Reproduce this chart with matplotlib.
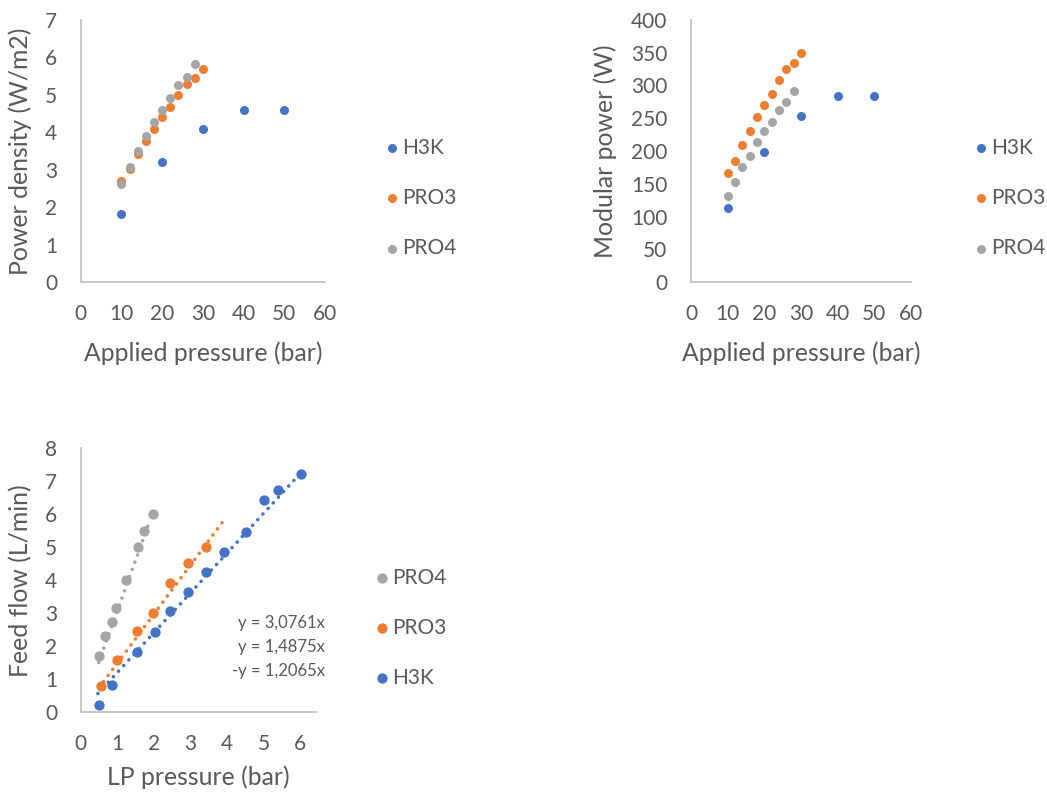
import matplotlib
matplotlib.use("Agg")
import matplotlib.pyplot as plt
import numpy as np

plt.rcParams["font.family"] = ["Lato", "DejaVu Sans"]

# ---- data -------------------------------------------------------------
series_names = ["H3K", "PRO3", "PRO4"]
colors = {"H3K": "#4472C4", "PRO3": "#ED7D31", "PRO4": "#A5A5A5"}

# Applied pressure (bar)
pressure_h3k = [10, 20, 30, 40, 50]
pressure_pro3 = [10, 12, 14, 16, 18, 20, 22, 24, 26, 28, 30]
pressure_pro4 = [10, 12, 14, 16, 18, 20, 22, 24, 26, 28]

# Power density (W/m2)
density_h3k = [1.83, 3.21, 4.08, 4.59, 4.60]
density_pro3 = [2.70, 3.01, 3.41, 3.76, 4.10, 4.41, 4.68, 5.00, 5.29, 5.45, 5.69]
density_pro4 = [2.63, 3.07, 3.50, 3.89, 4.28, 4.60, 4.91, 5.25, 5.49, 5.82]

# Modular power (W)
power_h3k = [113, 199, 254, 284, 284]
power_pro3 = [166, 184, 209, 231, 252, 270, 287, 308, 325, 335, 349]
power_pro4 = [132, 153, 175, 193, 214, 231, 245, 263, 275, 291]

# LP pressure (bar) vs feed flow (L/min)
lp_h3k = [0.49, 0.86, 1.55, 2.04, 2.45, 2.94, 3.43, 3.91, 4.51, 5.02, 5.40, 6.01]
flow_h3k = [0.23, 0.83, 1.82, 2.42, 3.06, 3.65, 4.25, 4.85, 5.47, 6.43, 6.73, 7.21]
lp_pro3 = [0.56, 0.98, 1.55, 1.97, 2.44, 2.94, 3.42]
flow_pro3 = [0.81, 1.58, 2.46, 3.02, 3.91, 4.52, 5.02]
lp_pro4 = [0.49, 0.67, 0.86, 0.97, 1.25, 1.56, 1.74, 1.97]
flow_pro4 = [1.71, 2.32, 2.75, 3.17, 4.01, 5.02, 5.50, 6.01]

# Linear fits through the origin (slope) and the x-range each trendline covers
slopes = {"PRO4": 3.0761, "PRO3": 1.4875, "H3K": 1.2065}
slope_labels = {"PRO4": "y = 3,0761x", "PRO3": "y = 1,4875x", "H3K": "-y = 1,2065x"}
trend_range = {"PRO4": (0.49, 1.90), "PRO3": (0.50, 3.90), "H3K": (0.47, 6.10)}

TEXT = "#595959"
AXIS = "#BFBFBF"

fig = plt.figure(figsize=(10.47, 7.96), dpi=100)


def style_axes(ax, xlim, ylim, xticks, yticks, xlabel, ylabel, xl_pos, yl_pos):
    ax.set_xlim(*xlim)
    ax.set_ylim(*ylim)
    ax.set_xticks(xticks)
    ax.set_yticks(yticks)
    for side in ("top", "right"):
        ax.spines[side].set_visible(False)
    for side in ("left", "bottom"):
        ax.spines[side].set_color(AXIS)
        ax.spines[side].set_linewidth(1.2)
    ax.tick_params(length=0, labelsize=15, colors=TEXT, pad=16)
    ax.tick_params(axis="y", pad=17)
    ax.set_xlabel(xlabel, fontsize=17.8, color=TEXT)
    ax.set_ylabel(ylabel, fontsize=17.8, color=TEXT)
    ax.xaxis.set_label_coords(0.5, xl_pos)
    ax.yaxis.set_label_coords(yl_pos, 0.5)
    ax.patch.set_alpha(0)


def add_legend(ax, handles, labels, x, y):
    leg = ax.legend(handles, labels, loc="upper left", bbox_to_anchor=(x, y),
                    bbox_transform=fig.transFigure, frameon=False,
                    fontsize=15, labelcolor=TEXT, handletextpad=0.1,
                    handlelength=0.8, labelspacing=1.45, borderaxespad=0,
                    borderpad=0)
    return leg


# ---- panel 1: power density ----------------------------------------------
ax1 = fig.add_axes([0.0771, 0.6457, 0.2333, 0.3292])
h = {}
for name, xs, ys in [("H3K", pressure_h3k, density_h3k),
                     ("PRO3", pressure_pro3, density_pro3),
                     ("PRO4", pressure_pro4, density_pro4)]:
    h[name] = ax1.scatter(xs, ys, s=42, color=colors[name], zorder=3,
                          linewidths=0)
style_axes(ax1, (0, 60), (0, 7), range(0, 61, 10), range(0, 8),
           "Applied pressure (bar)", "Power density (W/m2)", -0.225, -0.199)
add_legend(ax1, [h[n] for n in series_names], series_names, 0.366, 0.827)

# ---- panel 2: modular power ----------------------------------------------
ax2 = fig.add_axes([0.6600, 0.6457, 0.2101, 0.3292])
h = {}
for name, xs, ys in [("H3K", pressure_h3k, power_h3k),
                     ("PRO3", pressure_pro3, power_pro3),
                     ("PRO4", pressure_pro4, power_pro4)]:
    h[name] = ax2.scatter(xs, ys, s=42, color=colors[name], zorder=3,
                          linewidths=0)
style_axes(ax2, (0, 60), (0, 400), range(0, 61, 10), range(0, 401, 50),
           "Applied pressure (bar)", "Modular power (W)", -0.225, -0.336)
add_legend(ax2, [h[n] for n in series_names], series_names, 0.929, 0.827)

# ---- panel 3: feed flow vs LP pressure ----------------------------------
ax3 = fig.add_axes([0.0771, 0.1052, 0.2244, 0.3316])
h = {}
for name, xs, ys in [("PRO4", lp_pro4, flow_pro4),
                     ("PRO3", lp_pro3, flow_pro3),
                     ("H3K", lp_h3k, flow_h3k)]:
    h[name] = ax3.scatter(xs, ys, s=55, color=colors[name], zorder=3,
                          linewidths=0)
    x0, x1 = trend_range[name]
    xt = np.array([x0, x1])
    ax3.plot(xt, slopes[name] * xt, color=colors[name], lw=2.6,
             linestyle=(0, (0.01, 2.1)), dash_capstyle="round", zorder=2)
style_axes(ax3, (0, 6.42), (0, 8), range(0, 7), range(0, 9),
           "LP pressure (bar)", "Feed flow (L/min)", -0.203, -0.207)
order3 = ["PRO4", "PRO3", "H3K"]
add_legend(ax3, [h[n] for n in order3], order3, 0.357, 0.287)

for i, name in enumerate(order3):
    ax3.text(1.04, 0.34 - i * 0.092, slope_labels[name], transform=ax3.transAxes,
             ha="right", va="center", fontsize=12, color=TEXT)

fig.savefig("out.png", dpi=100)
